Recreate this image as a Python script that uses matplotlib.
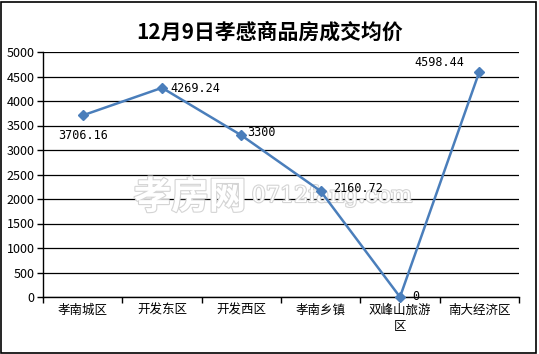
import matplotlib.pyplot as plt
import matplotlib.patheffects as pe
from matplotlib.patches import Rectangle

plt.rcParams['font.family'] = ['Noto Sans CJK SC', 'DejaVu Sans']

categories = ['孝南城区', '开发东区', '开发西区', '孝南乡镇', '双峰山旅游\n区', '南大经济区']
prices = [3706.16, 4269.24, 3300, 2160.72, 0, 4598.44]
price_labels = ['3706.16', '4269.24', '3300', '2160.72', '0', '4598.44']
yticks = list(range(0, 5001, 500))

# label offsets in pixels (dx, dy, ha)
offsets = [(0, -20, 'center'), (8, -1, 'left'), (6, 3, 'left'),
           (12, 3, 'left'), (12, 0, 'left'), (-40, 9, 'center')]

fig = plt.figure(figsize=(5.39, 3.54), dpi=100)
ax = fig.add_axes([43 / 539, 1 - 297 / 354, (519 - 43) / 539, (297 - 52) / 354])

# watermark (hollow letters), above the grid but under the line
outline = [pe.withStroke(linewidth=1.6, foreground='#d4d4d4')]
ax.text(190 / 539, 1 - 197 / 354, '孝房网', fontsize=27, color='white', fontweight='bold',
        ha='center', va='center', zorder=1.5, path_effects=outline, transform=fig.transFigure)
ax.text(332 / 539, 1 - 196 / 354, '0712fang.com', fontsize=16, color='white',
        ha='center', va='center', family='DejaVu Serif', zorder=1.5, path_effects=outline,
        transform=fig.transFigure)

x = list(range(len(categories)))
ax.plot(x, prices, color='#4a7ebb', lw=1.8, marker='D', ms=5, zorder=3, clip_on=False)

for i, (v, lab) in enumerate(zip(prices, price_labels)):
    dx, dy, ha = offsets[i]
    ax.annotate(lab, (i, v), xytext=(dx * 0.72, dy * 0.72), textcoords='offset points',
                ha=ha, va='center', fontsize=8.5, family='DejaVu Sans Mono', zorder=4)

ax.set_xlim(-0.5, len(categories) - 0.5)
ax.set_ylim(0, 5000)
ax.set_yticks(yticks)
ax.set_yticklabels([str(t) for t in yticks], fontsize=9)
ax.set_xticks(x)
ax.set_xticklabels(categories, fontsize=9, linespacing=1.3)
ax.set_xticks([i - 0.5 for i in range(len(categories) + 1)], minor=True)
ax.tick_params(axis='x', which='major', length=0, pad=5)
ax.tick_params(axis='x', which='minor', length=4, width=1, direction='out')
ax.tick_params(axis='y', length=4, width=1, direction='out', pad=2)

ax.grid(axis='y', color='black', lw=0.9)
ax.set_axisbelow(True)
for s in ['top', 'right']:
    ax.spines[s].set_visible(False)
ax.spines['left'].set_linewidth(1)
ax.spines['bottom'].set_linewidth(1)

fig.text(0.5, 1 - 32 / 354, '12月9日孝感商品房成交均价', fontsize=15, fontweight='bold',
         ha='center', va='center')

fig.patches.append(Rectangle((1 / 539, 1 / 354), 535 / 539, 351 / 354, transform=fig.transFigure,
                             fill=False, edgecolor='black', lw=1.2))

fig.savefig('out.png', dpi=100)
